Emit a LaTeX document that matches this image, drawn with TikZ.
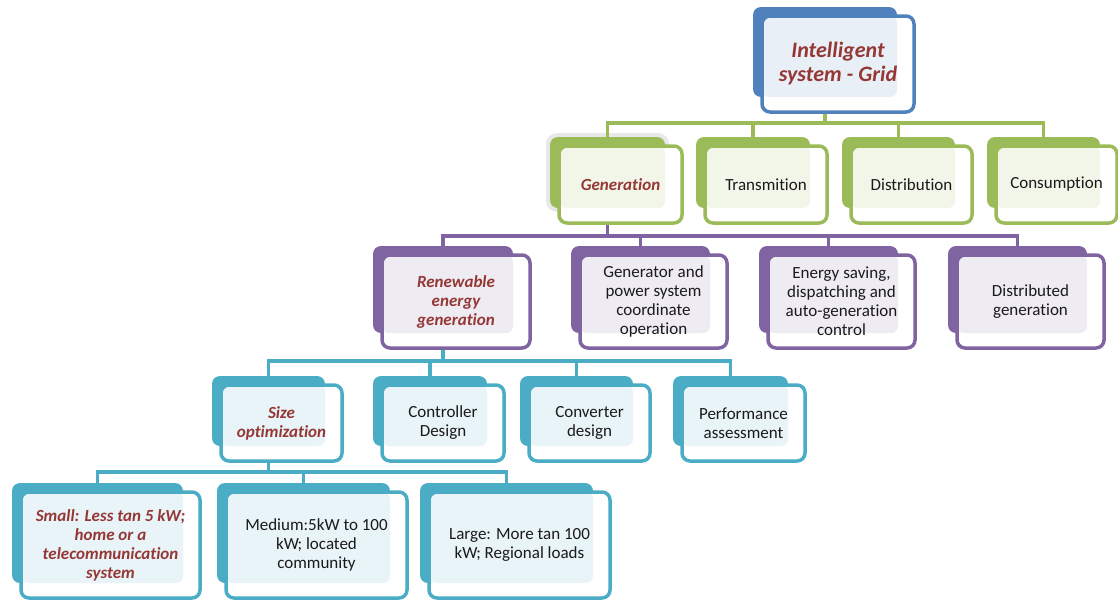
\documentclass[tikz,border=0pt]{standalone}
\usepackage{fontspec}
\setmainfont{Carlito}[Ligatures=NoCommon]
\usetikzlibrary{fit,backgrounds}
\definecolor{cblue}{HTML}{4F81BD}
\definecolor{cgreen}{HTML}{9BBB59}
\definecolor{cpurple}{HTML}{8064A2}
\definecolor{cteal}{HTML}{4BACC6}
\definecolor{redtxt}{HTML}{953735}
\definecolor{txtblack}{HTML}{1A1A1A}
\tikzset{
  backbox/.style={fill=#1, rounded corners=8pt, inner sep=0pt, outer sep=0pt, draw=none},
  frontfill/.style={fill=white, rounded corners=8pt, inner sep=0pt, outer sep=0pt, draw=none},
  frontline/.style={draw=#1, line width=3.5pt, rounded corners=8pt},
  conn/.style={draw=#1, line width=3.8pt},
  lab/.style={font=\fontsize{17}{19}\selectfont, align=center, text=txtblack, inner sep=0pt},
  redlab/.style={font=\fontsize{17}{19}\selectfont\bfseries\itshape, align=center, text=redtxt, inner sep=0pt},
  biglab/.style={font=\fontsize{22}{24}\selectfont\bfseries\itshape, align=center, text=redtxt, inner sep=0pt},
}
\newcommand\gbox[8]{%
  \node[backbox=#6, fit={(#2,#3) (#4,#5)}] (#1b) {};
  \node[frontfill, fit={({#2+9},{#3+9}) ({#4+17},{#5+15})}] (#1) {};
  \fill[#6!13, rounded corners=7pt] (#1.north west) rectangle (#1b.south east);
  \draw[frontline=#6] (#1.north west) rectangle (#1.south east);
  \node[#7] (#1t) at (#1.center) {#8};
}
\begin{document}
\begin{tikzpicture}[x=1pt,y=-1pt]
\useasboundingbox (0,0) rectangle (1118,600);
\coordinate (bus1) at (0,123);
\coordinate (bus2) at (0,236);
\coordinate (bus3) at (0,361);
\coordinate (bus4) at (0,472);

% level 1
\gbox{A}{753}{7}{897}{97}{cblue}{biglab}{Intelligent\\system - Grid}
% level 2
\gbox{Bi}{550}{137}{665}{208}{cgreen}{redlab}{Generation}
\gbox{Bii}{696}{137}{810}{208}{cgreen}{lab}{Transmition}
\gbox{Biii}{842}{137}{955}{208}{cgreen}{lab}{Distribution}
\gbox{Biv}{987}{137}{1100}{208}{cgreen}{lab}{Consumption}
% level 3
\gbox{Ci}{373}{246}{513}{333}{cpurple}{redlab}{Renewable\\energy\\generation}
\gbox{Cii}{571}{246}{710}{333}{cpurple}{lab}{Generator and\\power system\\coordinate\\operation}
\gbox{Ciii}{759}{246}{898}{333}{cpurple}{lab}{Energy saving,\\dispatching and\\auto-generation\\control}
\gbox{Civ}{948}{246}{1087}{333}{cpurple}{lab}{Distributed\\generation}
% level 4
\gbox{Di}{212}{376}{325}{446}{cteal}{redlab}{Size\\optimization}
\gbox{Dii}{373}{376}{487}{446}{cteal}{lab}{Controller\\Design}
\gbox{Diii}{520}{376}{633}{446}{cteal}{lab}{Converter\\design}
\gbox{Div}{673}{376}{788}{446}{cteal}{lab}{Performance\\assessment}
% level 5
\gbox{Ei}{12}{483}{183}{583}{cteal}{redlab}{Small: Less tan 5 kW;\\home or a\\telecommunication\\system}
\gbox{Eii}{217}{483}{390}{583}{cteal}{lab}{Medium:5kW to 100\\kW; located\\community}
\gbox{Eiii}{420}{483}{593}{583}{cteal}{lab}{Large: More tan 100\\kW; Regional loads}

\begin{pgfonlayer}{background}
  % selection glow around Generation
  \fill[gray!18, rounded corners=11pt] ([shift={(-4,-4)}]Bib.north west) rectangle ([shift={(4,4)}]Bib.south east);
  % level 1 -> 2
  \draw[conn=cgreen] (A.south -| Ab.center) -- (Ab.center |- bus1);
  \draw[conn=cgreen] (Bib.north) -- (Bib.north |- bus1) -- (Bivb.north |- bus1) -- (Bivb.north);
  \draw[conn=cgreen] (Biib.north) -- (Biib.north |- bus1);
  \draw[conn=cgreen] (Biiib.north) -- (Biiib.north |- bus1);
  % level 2 -> 3
  \draw[conn=cpurple] (Bi.south -| Bib.center) -- (Bib.center |- bus2);
  \draw[conn=cpurple] (Cib.north) -- (Cib.north |- bus2) -- (Civb.north |- bus2) -- (Civb.north);
  \draw[conn=cpurple] (Ciib.north) -- (Ciib.north |- bus2);
  \draw[conn=cpurple] (Ciiib.north) -- (Ciiib.north |- bus2);
  % level 3 -> 4
  \draw[conn=cteal] (Ci.south -| Cib.center) -- (Cib.center |- bus3);
  \draw[conn=cteal] (Dib.north) -- (Dib.north |- bus3) -- (Divb.north |- bus3) -- (Divb.north);
  \draw[conn=cteal] (Diib.north) -- (Diib.north |- bus3);
  \draw[conn=cteal] (Diiib.north) -- (Diiib.north |- bus3);
  % level 4 -> 5
  \draw[conn=cteal] (Di.south -| Dib.center) -- (Dib.center |- bus4);
  \draw[conn=cteal] (Eib.north) -- (Eib.north |- bus4) -- (Eiiib.north |- bus4) -- (Eiiib.north);
  \draw[conn=cteal] (Eiib.north) -- (Eiib.north |- bus4);
\end{pgfonlayer}
\end{tikzpicture}
\end{document}
